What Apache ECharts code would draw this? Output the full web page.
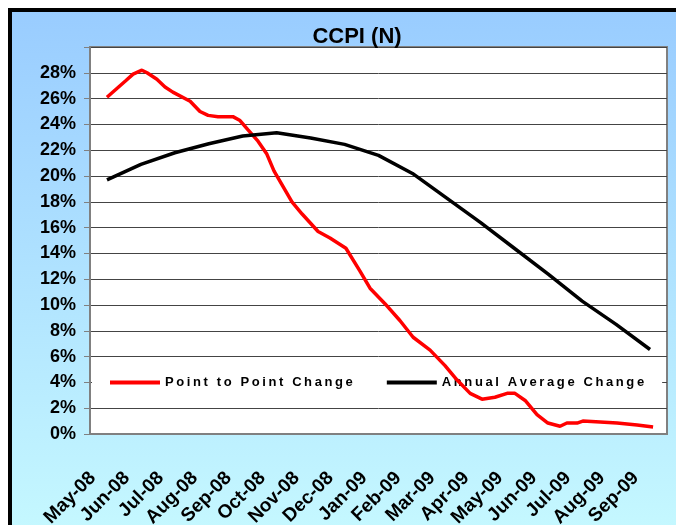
<!DOCTYPE html>
<html>
<head>
<meta charset="utf-8">
<title>CCPI (N)</title>
<script src="https://cdn.jsdelivr.net/npm/echarts@6/dist/echarts.min.js"></script>
<style>
    html, body { margin: 0; padding: 0; background: #fff; overflow: hidden; }
    #main { width: 676px; height: 525px; }
</style>
</head>
<body>
<div id="main"></div>
<script type="text/javascript">
    // month labels on the x axis
    var months = ['May-08', 'Jun-08', 'Jul-08', 'Aug-08', 'Sep-08', 'Oct-08', 'Nov-08', 'Dec-08',
        'Jan-09', 'Feb-09', 'Mar-09', 'Apr-09', 'May-09', 'Jun-09', 'Jul-09', 'Aug-09', 'Sep-09'];

    // point to point change, position in months from May-08 and value in %
    var p2pPos = [0, 0.56, 0.77, 1.03, 1.18, 1.47, 1.71, 1.94, 2.45, 2.74,
        2.98, 3.27, 3.71, 3.92, 4.15, 4.45, 4.71, 4.92, 5.45, 5.75,
        6.22, 6.57, 7.04, 7.45, 7.75, 8.19, 8.63, 9.02, 9.52, 9.96,
        10.31, 10.7, 11.05, 11.43, 11.79, 12.02, 12.32, 12.67, 12.99, 13.35,
        13.55, 13.85, 14.02, 14.53, 15.03, 15.62, 16.09];
    var p2pVal = [26.1, 27.4, 27.9, 28.2, 28.0, 27.5, 26.9, 26.5, 25.8, 25.0,
        24.7, 24.6, 24.6, 24.3, 23.6, 22.7, 21.7, 20.4, 18.0, 17.05,
        15.7, 15.2, 14.4, 12.65, 11.3, 10.1, 8.8, 7.5, 6.5, 5.3,
        4.2, 3.15, 2.7, 2.85, 3.15, 3.15, 2.6, 1.5, 0.85, 0.6,
        0.85, 0.85, 1.0, 0.93, 0.85, 0.7, 0.55];

    // annual average change, one value per month (%)
    var avgVal = [19.7, 20.9, 21.8, 22.5, 23.1, 23.35, 22.95, 22.45, 21.6,
        20.2, 18.3, 16.4, 14.4, 12.4, 10.3, 8.5, 6.55];

    var p2pData = [];
    for (var i = 0; i < p2pPos.length; i++) {
        p2pData.push([p2pPos[i], p2pVal[i]]);
    }
    var avgData = [];
    for (var j = 0; j < avgVal.length; j++) {
        avgData.push([j, avgVal[j]]);
    }

    var font = '"Liberation Sans", Arial, sans-serif';

    // spread the legend letters out like the original
    function spaced(name) {
        return name.split('').join('\u2009');
    }

    var myChart = echarts.init(document.getElementById('main'));
    myChart.setOption({
        animation: false,
        graphic: [{
            type: 'rect',
            z: -10,
            shape: { x: 10, y: 10, width: 720, height: 600 },
            style: {
                fill: new echarts.graphic.LinearGradient(0, 0, 0, 1, [
                    { offset: 0, color: '#99ccff' },
                    { offset: 1, color: '#ccffff' }
                ]),
                stroke: '#000',
                lineWidth: 4
            }
        }],
        title: {
            text: 'CCPI (N)',
            left: 352,
            textAlign: 'center',
            top: 21,
            textStyle: { fontFamily: font, fontWeight: 'bold', fontSize: 22, color: '#000' }
        },
        legend: {
            left: 92,
            top: 372,
            z: 1,
            padding: [4, 18, 4, 18],
            backgroundColor: '#fff',
            itemWidth: 50,
            itemHeight: 4,
            itemGap: 34,
            icon: 'rect',
            formatter: spaced,
            textStyle: { fontFamily: font, fontWeight: 'bold', fontSize: 13, color: '#000' },
            data: ['Point to Point Change', 'Annual Average Change']
        },
        grid: {
            left: 90,
            right: 9,
            top: 47,
            bottom: 91,
            outerBoundsMode: 'none',
            show: true,
            backgroundColor: '#fff',
            borderColor: '#808080',
            borderWidth: 2
        },
        xAxis: [{
            type: 'category',
            data: months,
            boundaryGap: true,
            axisLine: { lineStyle: { color: '#808080', width: 2 } },
            axisTick: { interval: 0, length: 6, lineStyle: { color: '#808080', width: 1 } },
            axisLabel: {
                interval: 0,
                rotate: 45,
                margin: 27,
                padding: [0, 20, 0, 0],
                fontFamily: font,
                fontWeight: 'bold',
                fontSize: 19,
                color: '#000'
            }
        }, {
            type: 'value',
            min: -0.5,
            max: 16.5,
            show: false
        }],
        yAxis: {
            type: 'value',
            min: 0,
            max: 30,
            interval: 2,
            axisLine: { show: true, onZero: false, lineStyle: { color: '#808080', width: 2 } },
            axisTick: { show: true, length: 6, lineStyle: { color: '#808080' } },
            splitLine: { lineStyle: { color: '#444', width: 1 } },
            axisLabel: {
                margin: 14,
                fontFamily: font,
                fontWeight: 'bold',
                fontSize: 18,
                color: '#000',
                formatter: function (v) { return v === 30 ? '' : v + '%'; }
            }
        },
        series: [{
            name: 'Point to Point Change',
            type: 'line',
            xAxisIndex: 1,
            z: 3,
            symbol: 'none',
            color: '#ff0000',
            lineStyle: { color: '#ff0000', width: 3.5 },
            data: p2pData
        }, {
            name: 'Annual Average Change',
            type: 'line',
            xAxisIndex: 1,
            z: 3,
            symbol: 'none',
            color: '#000000',
            lineStyle: { color: '#000000', width: 3.5 },
            data: avgData
        }]
    });
</script>
</body>
</html>
